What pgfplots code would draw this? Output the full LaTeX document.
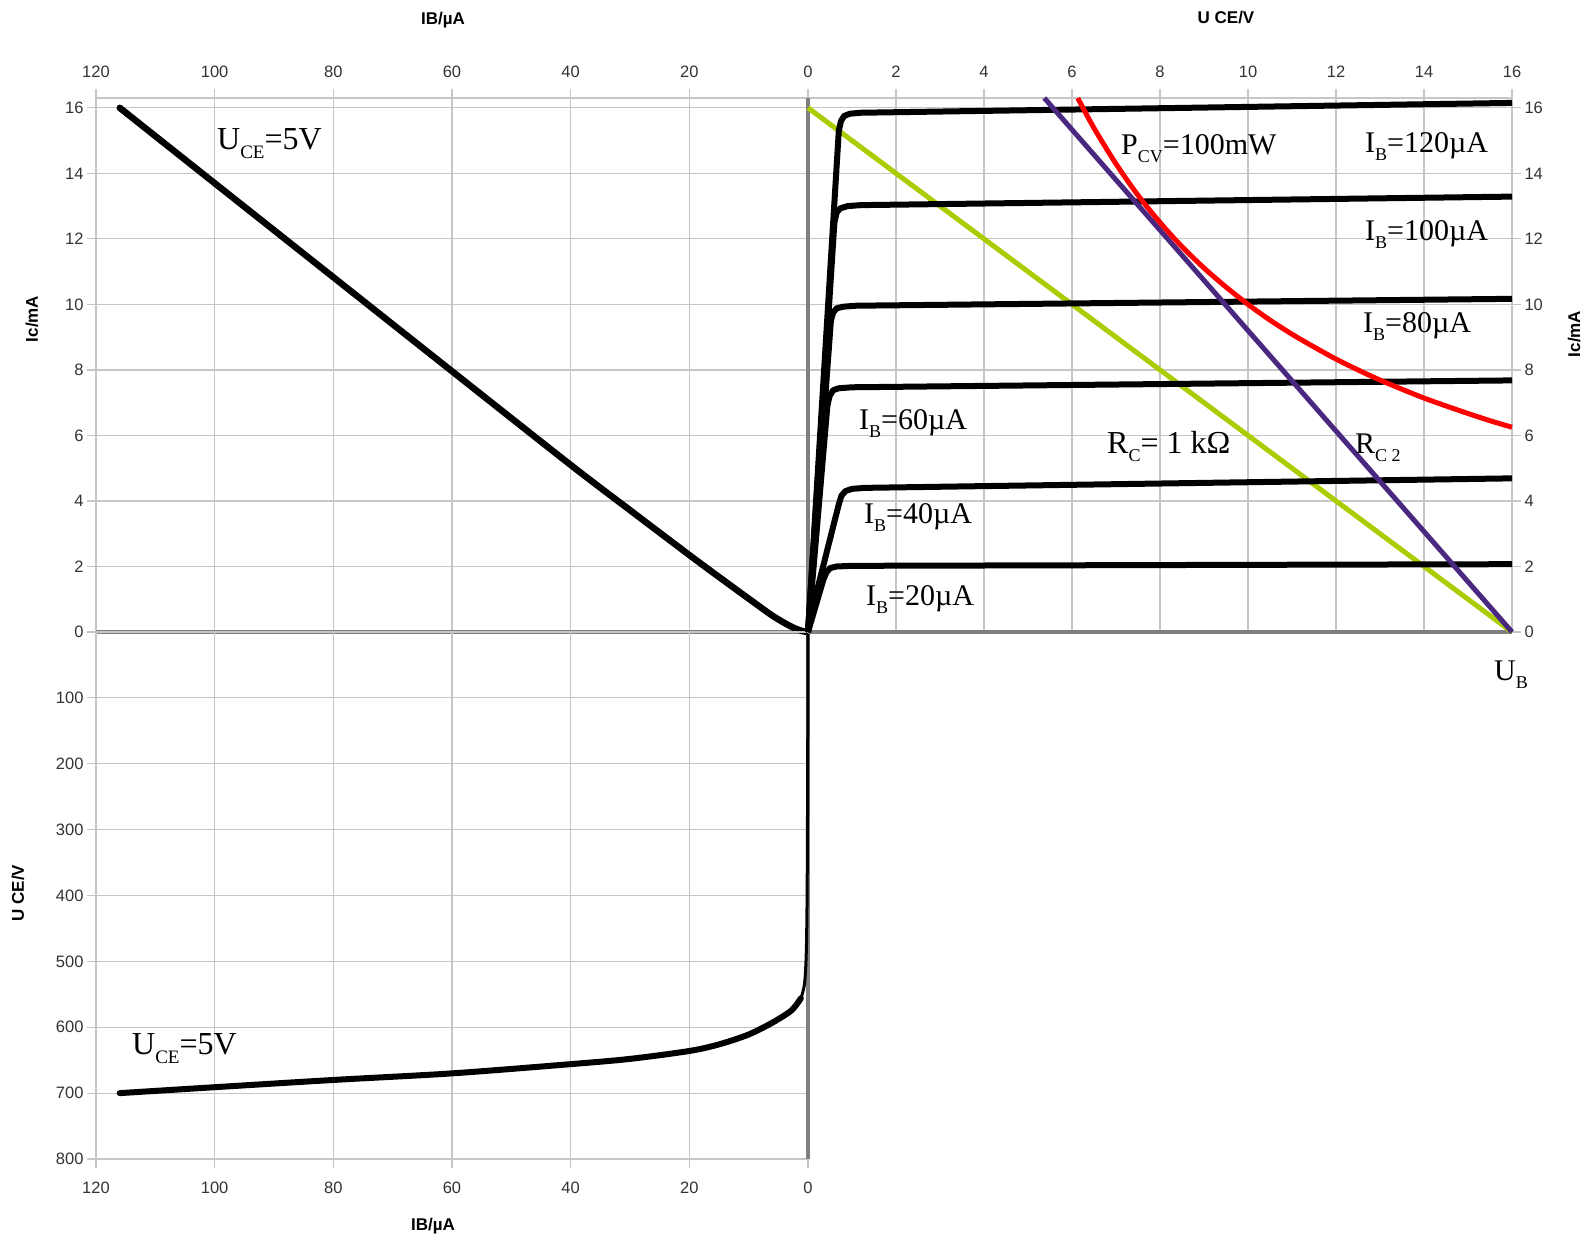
\documentclass[border=0pt]{standalone}
\usepackage{pgfplots}
\pgfplotsset{compat=1.18}
\usepackage{fontspec}
\setmainfont{Liberation Serif}
\setsansfont{Liberation Sans}
\newfontfamily\arial{Liberation Sans}
\definecolor{gridgray}{RGB}{198,198,198}
\definecolor{axgray}{RGB}{128,128,128}
\definecolor{lgreen}{RGB}{170,204,0}
\definecolor{lpurple}{RGB}{75,40,128}
\definecolor{lred}{RGB}{255,0,0}
\newcommand\ann{\fontsize{30}{30}\selectfont}
\newcommand\sub[1]{\raisebox{-8pt}{\fontsize{18}{18}\selectfont #1}}
\newcommand\albl{\arial\fontsize{17}{17}\selectfont\bfseries}
\begin{document}
\begin{tikzpicture}
\useasboundingbox (0pt,0pt) rectangle (1587pt,-1239pt);
\pgfplotsset{
  every axis/.append style={
    scale only axis,
    axis line style={gridgray, line width=1.2pt},
    grid=major,
    major grid style={gridgray, line width=1.2pt},
    tick style={gridgray, line width=1.2pt},
    major tick length=9pt,
    tick align=outside,
    tick label style={font=\arial\fontsize{16.5}{16.5}\selectfont, text=black!80},
    /pgf/number format/assume math mode=true,
  },
  curve/.style={black, line width=6pt, line join=round, line cap=butt},
}
% ---------------- top-left: Ic vs IB ----------------
\begin{axis}[
  at={(96pt,-632pt)}, anchor=south west,
  width=712pt, height=534pt,
  xmin=0, xmax=120, x dir=reverse,
  ymin=0, ymax=16.3,
  xtick={20,40,...,120}, xtick pos=right, xticklabel pos=right,
  xticklabel style={yshift=8pt},
  ytick={0,2,...,16}, ytick pos=left,
  clip=false,
]
\draw[axgray, line width=4pt] (axis cs:120,0) -- (axis cs:0,0);
\addplot[curve, smooth, line cap=round, line width=6.5pt] coordinates {
 (0,0) (1,0.03) (3,0.18) (6,0.5) (10,1.02) (15,1.68) (20,2.35) (30,3.72)
 (40,5.1) (60,7.96) (80,10.83) (100,13.7) (116,16.0)};
\end{axis}
% ---------------- bottom-left: UBE vs IB ----------------
\begin{axis}[
  at={(96pt,-632pt)}, anchor=north west,
  width=712pt, height=527pt,
  xmin=0, xmax=120, x dir=reverse,
  ymin=0, ymax=800, y dir=reverse,
  xtick={0,20,...,120}, xtick pos=left,
  xticklabel style={yshift=-10pt},
  ytick={100,200,...,800}, ytick pos=left,
  clip=false,
]
\draw[axgray, line width=4pt] (axis cs:0,0) -- (axis cs:0,800);
\addplot[black, line width=3pt, smooth] coordinates {(1.2,556) (0.6,535) (0.3,490) (0.15,400) (0.06,220) (0,0)};
\addplot[curve, smooth, line cap=round] coordinates {
 (116,700) (100,691) (80,680) (60,670) (40,656) (30,648) (20,636) (15,626)
 (10,611) (6,593) (3,576) (1.8,564) (1.2,556)};
\end{axis}
% ---------------- top-right: output characteristics ----------------
\begin{axis}[
  at={(808pt,-632pt)}, anchor=south west,
  width=704pt, height=534pt,
  xmin=0, xmax=16, ymin=0, ymax=16.3,
  xtick={0,2,...,16}, xtick pos=right, xticklabel pos=right,
  xticklabel style={yshift=8pt},
  ytick={0,2,...,16}, ytick pos=right, yticklabel pos=right,
  clip=false,
]
\draw[axgray, line width=4pt] (axis cs:0,0) -- (axis cs:16,0);
\draw[axgray, line width=4pt] (axis cs:0,0) -- (axis cs:0,16.3);
% load line Rc = 1 kOhm
\addplot[lgreen, line width=5pt] coordinates {(0,16) (16,0)};
% IB curves
\addplot[curve] coordinates {(0,0) (0.7,15.3) (0.75,15.6) (0.82,15.75) (0.95,15.82) (1.2,15.85) (16,16.15)};
\addplot[curve] coordinates {(0,0) (0.6,12.5) (0.65,12.8) (0.73,12.93) (0.9,13.0) (1.2,13.03) (16,13.29)};
\addplot[curve] coordinates {(0,0) (0.52,9.5) (0.57,9.75) (0.65,9.88) (0.8,9.93) (1.1,9.96) (16,10.17)};
\addplot[curve] coordinates {(0,0) (0.44,6.9) (0.49,7.2) (0.57,7.38) (0.7,7.44) (1.0,7.47) (16,7.68)};
\addplot[curve] coordinates {(0,0) (0.11,0.76) (0.7,3.9) (0.76,4.16) (0.85,4.3) (1.0,4.37) (1.3,4.4) (16,4.69)};
\addplot[curve] coordinates {(0,0) (0.35,1.6) (0.42,1.82) (0.5,1.95) (0.65,2.0) (1.0,2.02) (16,2.07)};
% load line Rc2
\addplot[lpurple, line width=5pt] coordinates {(5.37,16.3) (16,0)};
% power hyperbola 100 mW
\addplot[lred, line width=5pt, smooth] coordinates {
 (6.13,16.3) (6.5,15.38) (7,14.29) (7.5,13.33) (8,12.5) (8.5,11.76) (9,11.11)
 (9.5,10.53) (10,10) (10.5,9.52) (11,9.09) (11.5,8.70) (12,8.33) (12.5,8.0)
 (13,7.69) (13.5,7.41) (14,7.14) (14.5,6.90) (15,6.67) (15.5,6.45) (16,6.25)};
\end{axis}
% ---------------- axis titles ----------------
\node[font=\albl] at (443pt,-20pt) {IB/µA};
\node[font=\albl] at (1226pt,-18pt) {U CE/V};
\node[font=\albl, rotate=90] at (32pt,-319pt) {Ic/mA};
\node[font=\albl, rotate=90] at (1574pt,-334pt) {Ic/mA};
\node[font=\albl, rotate=90] at (18pt,-893pt) {U CE/V};
\node[font=\albl] at (433pt,-1226pt) {IB/µA};
% ---------------- annotations ----------------
\node[anchor=base west, inner sep=0pt, font=\fontsize{32}{32}\selectfont] at (217pt,-149pt) {U\raisebox{-9pt}{\fontsize{19}{19}\selectfont CE}=5V};
\node[anchor=base west, inner sep=0pt, font=\fontsize{32}{32}\selectfont] at (132pt,-1054pt) {U\raisebox{-9pt}{\fontsize{19}{19}\selectfont CE}=5V};
\node[anchor=base west, inner sep=0pt, font=\ann] at (1121pt,-154pt) {P\sub{CV}=100mW};
\node[anchor=base west, inner sep=0pt, font=\ann] at (1365pt,-152pt) {I\sub{B}=120µA};
\node[anchor=base west, inner sep=0pt, font=\ann] at (1365pt,-240pt) {I\sub{B}=100µA};
\node[anchor=base west, inner sep=0pt, font=\ann] at (1363pt,-332pt) {I\sub{B}=80µA};
\node[anchor=base west, inner sep=0pt, font=\ann] at (859pt,-429pt) {I\sub{B}=60µA};
\node[anchor=base west, inner sep=0pt, font=\ann] at (864pt,-523pt) {I\sub{B}=40µA};
\node[anchor=base west, inner sep=0pt, font=\ann] at (866pt,-605pt) {I\sub{B}=20µA};
\node[anchor=base west, inner sep=0pt, font=\fontsize{32}{32}\selectfont] at (1107pt,-453pt) {R\sub{C}= 1 kΩ};
\node[anchor=base west, inner sep=0pt, font=\ann] at (1355pt,-453pt) {R\sub{C 2}};
\node[anchor=base west, inner sep=0pt, font=\ann] at (1494pt,-680pt) {U\sub{B}};
\end{tikzpicture}
\end{document}
